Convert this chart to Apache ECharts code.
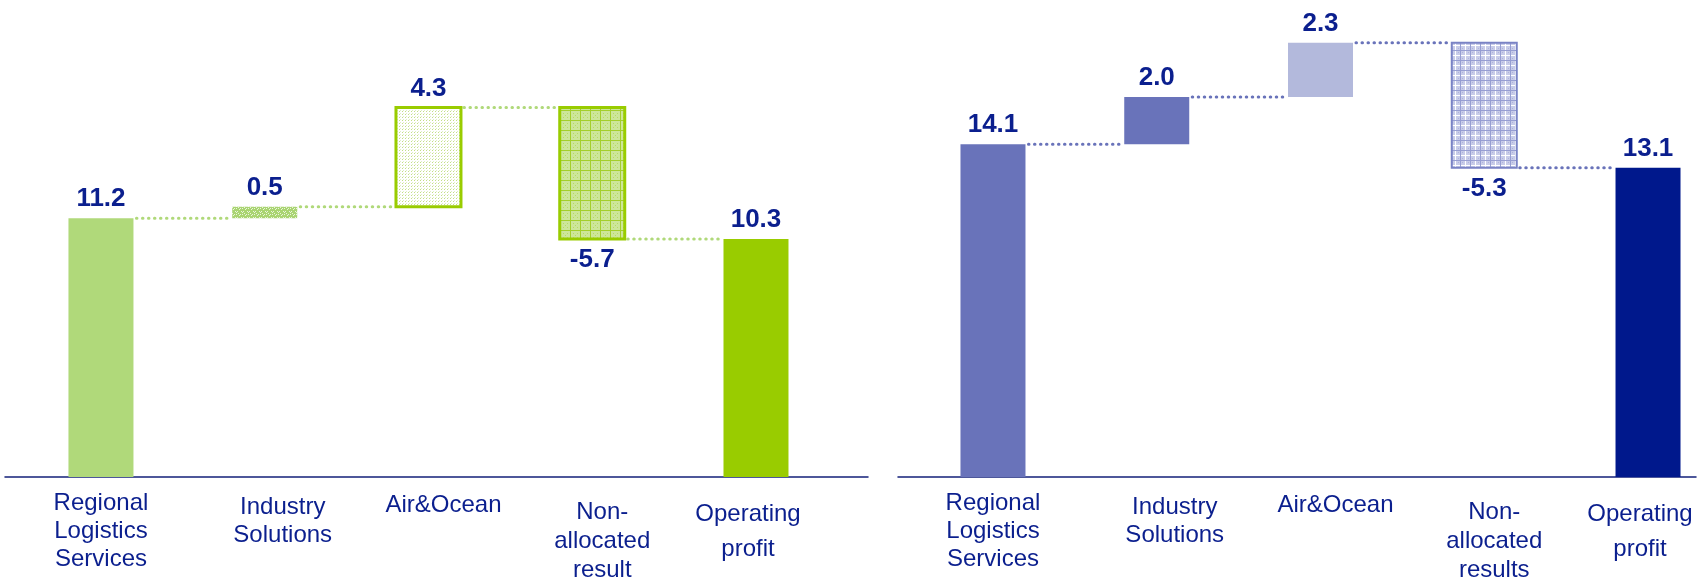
<!DOCTYPE html>
<html>
<head>
<meta charset="utf-8">
<script src="https://cdn.jsdelivr.net/npm/echarts@6/dist/echarts.min.js"></script>
<style>
  html, body { margin: 0; padding: 0; background: #ffffff; }
  #chart { width: 1701px; height: 583px; }
</style>
</head>
<body>
<div id="chart"></div>
<script>
// Operating profit bridges, two periods side by side

const categoriesLeft = ['Regional\nLogistics\nServices', 'Industry\nSolutions', 'Air&Ocean', 'Non-\nallocated\nresult', 'Operating\nprofit'];
const valuesLeft = [11.2, 0.5, 4.3, -5.7, 10.3];

const categoriesRight = ['Regional\nLogistics\nServices', 'Industry\nSolutions', 'Air&Ocean', 'Non-\nallocated\nresults', 'Operating\nprofit'];
const valuesRight = [14.1, 2.0, 2.3, -5.3, 13.1];

// 'total' bars stand on zero, 'step' bars float on the running sum
const barKinds = ['total', 'step', 'step', 'step', 'total'];

// ---- styling ----
const FONT = '"Liberation Sans", Arial, Helvetica, sans-serif';
const NAVY_TEXT = '#0b1f8e';
const BAR_W = 65;
// per-category label tweaks: gap above the first line, line spacing, sideways nudge
const labelGap = [0, 4, 2, 9, 8];
const labelLine = [28, 28, 28, 29, 35];
const labelNudge = [0, 18, 15, 10, -8];

function pattern(size, bg, draw) {
  const c = document.createElement('canvas');
  c.width = c.height = size;
  const g = c.getContext('2d');
  g.fillStyle = bg;
  g.fillRect(0, 0, size, size);
  draw(g);
  return { image: c, repeat: 'repeat' };
}

const greenSpeckle = pattern(6, '#a9d471', g => {
  g.fillStyle = 'rgba(255,255,255,0.75)';
  [[1,1],[3,1],[2,2],[4,3],[0,4],[2,4],[5,5]].forEach(p => g.fillRect(p[0], p[1], 1, 1));
});
const greenStipple = pattern(3, '#ffffff', g => {
  g.fillStyle = '#c3df86';
  g.fillRect(0, 0, 1, 1);
  g.fillStyle = '#e0efc4';
  g.fillRect(1, 2, 1, 1);
});
const greenMesh = pattern(10, '#cde69a', g => {
  g.fillStyle = '#a4cf2c';
  g.fillRect(0, 0, 10, 1);
  g.fillRect(0, 0, 1, 10);
  g.fillStyle = '#b6da62';
  [[3,3],[7,3],[5,5],[3,7],[7,7]].forEach(p => g.fillRect(p[0], p[1], 1, 1));
});
const blueMesh = pattern(10, '#c8cce9', g => {
  g.fillStyle = '#ffffff';
  g.fillRect(0, 5, 10, 1);
  g.fillRect(5, 0, 1, 10);
  g.fillStyle = '#979ed2';
  g.fillRect(0, 0, 10, 1);
  g.fillRect(0, 0, 1, 10);
  g.fillStyle = '#aeb3dc';
  [[2,2],[8,2],[2,8],[8,8]].forEach(p => g.fillRect(p[0], p[1], 1, 1));
});

const styleLeft = [
  { color: '#b0d97a' },
  { color: greenSpeckle },
  { color: greenStipple, borderColor: '#99cc00', borderWidth: 3 },
  { color: greenMesh, borderColor: '#99cc00', borderWidth: 3 },
  { color: '#99cc00' }
];
const styleRight = [
  { color: '#6973ba' },
  { color: '#6973ba' },
  { color: '#b3b9dc' },
  { color: blueMesh, borderColor: '#7a83c5', borderWidth: 2 },
  { color: '#00188c' }
];

// running-sum layout of a bridge: [slot, bottom, top, value] per bar, and the level after each bar
function bridge(values) {
  let run = 0;
  const bars = [], level = [];
  values.forEach((v, i) => {
    let lo, hi;
    if (barKinds[i] === 'total') { lo = 0; hi = v; run = v; }
    else { lo = Math.min(run, run + v); hi = Math.max(run, run + v); run += v; }
    run = Math.round(run * 10) / 10;
    bars.push([i, lo, hi, v]);
    level.push(run);
  });
  return { bars, level };
}

const labelRich = {};
labelLine.forEach((lh, i) => {
  const n = labelNudge[i];
  labelRich['l' + i] = {
    fontFamily: FONT, fontSize: 24, color: NAVY_TEXT, lineHeight: lh, align: 'center',
    padding: [0, n < 0 ? -2 * n : 0, 0, n > 0 ? 2 * n : 0]
  };
  labelRich['g' + i] = { fontSize: 1, lineHeight: labelGap[i] };
});
function categoryLabeller(categories) {
  return function (value) {
    const idx = Math.round(value);
    const rows = (categories[idx] || '').split('\n').map(r => '{l' + idx + '|' + r + '}').join('\n');
    return labelGap[idx] ? '{g' + idx + '|\u00a0}\n' + rows : rows;
  };
}

function panelSeries(values, styles, dotColor, axisIdx) {
  const b = bridge(values);
  const connectors = b.level.slice(0, values.length - 1).map((lv, i) => [i, lv]);
  return [
    {
      // floating and standing bars with their value labels
      type: 'custom', coordinateSystem: 'cartesian2d', xAxisIndex: axisIdx, yAxisIndex: axisIdx,
      silent: true, z: 2,
      encode: { x: 0, y: [1, 2] },
      data: b.bars,
      renderItem: function (params, api) {
        const i = api.value(0), lo = api.value(1), hi = api.value(2), v = api.value(3);
        const pLo = api.coord([i, lo]);
        const pHi = api.coord([i, hi]);
        const st = styles[params.dataIndex];
        const neg = v < 0;
        return {
          type: 'group',
          children: [
            {
              type: 'rect',
              shape: { x: pLo[0] - BAR_W / 2, y: pHi[1], width: BAR_W, height: pLo[1] - pHi[1] },
              style: { fill: st.color, stroke: st.borderColor || null, lineWidth: st.borderWidth || 0 }
            },
            {
              type: 'text',
              x: pLo[0],
              y: neg ? pLo[1] + 8 : pHi[1] - 6,
              style: {
                text: v.toFixed(1), fill: NAVY_TEXT,
                fontFamily: FONT, fontSize: 26, fontWeight: 'bold',
                align: 'center', verticalAlign: neg ? 'top' : 'bottom'
              }
            }
          ]
        };
      }
    },
    {
      // dotted connectors carrying the running sum from bar to bar
      type: 'custom', coordinateSystem: 'cartesian2d', xAxisIndex: axisIdx, yAxisIndex: axisIdx,
      silent: true, z: 1,
      encode: { x: 0, y: 1 },
      data: connectors,
      renderItem: function (params, api) {
        const i = api.value(0), y = api.value(1);
        const p1 = api.coord([i, y]);
        const p2 = api.coord([i + 1, y]);
        return {
          type: 'line',
          shape: { x1: p1[0] + BAR_W / 2 + 3, y1: p1[1], x2: p2[0] - BAR_W / 2 - 3, y2: p2[1] },
          style: { stroke: dotColor, lineWidth: 3, lineDash: [0.5, 5.5], lineCap: 'round' }
        };
      }
    }
  ];
}

// horizontal axis: one slot per category, the base line runs a little past the outer bars
const slotAxis = (grid, categories, lo, hi) => ({
  type: 'value', gridIndex: grid, min: lo, max: hi,
  axisLine: { show: true, onZero: false, lineStyle: { color: '#13207a', width: 1.5 } },
  axisTick: { show: false }, splitLine: { show: false },
  axisLabel: {
    margin: 12,
    customValues: [0, 1, 2, 3, 4],
    formatter: categoryLabeller(categories),
    rich: labelRich,
    showMinLabel: true, showMaxLabel: true
  }
});
const valAxis = (grid, max) => ({
  type: 'value', gridIndex: grid, min: 0, max: max,
  axisLine: { show: false }, axisTick: { show: false }, axisLabel: { show: false }, splitLine: { show: false }
});

const chart = echarts.init(document.getElementById('chart'), null, { renderer: 'canvas' });
chart.setOption({
  animation: false,
  backgroundColor: '#ffffff',
  grid: [
    { left: 5, width: 863, top: 15, bottom: 106, outerBoundsMode: 'none' },
    { left: 898, width: 798, top: 5, bottom: 106, outerBoundsMode: 'none' }
  ],
  xAxis: [
    slotAxis(0, categoriesLeft, -0.586, 4.684),
    slotAxis(1, categoriesRight, -0.58, 4.293)
  ],
  yAxis: [valAxis(0, 20), valAxis(1, 20)],
  series: [].concat(
    panelSeries(valuesLeft, styleLeft, '#b0d97a', 0),
    panelSeries(valuesRight, styleRight, '#6973ba', 1)
  )
});
</script>
</body>
</html>
